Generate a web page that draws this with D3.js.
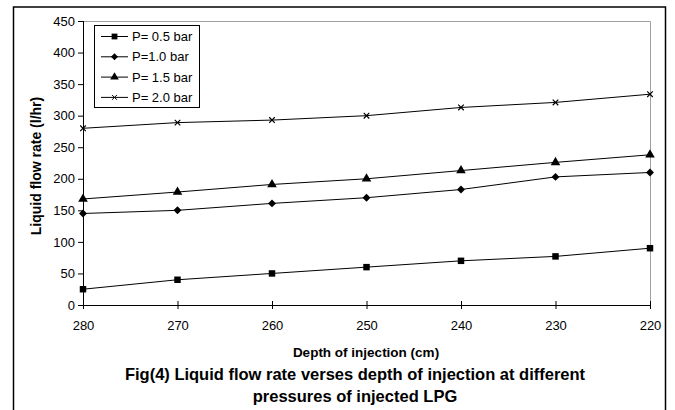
<!DOCTYPE html>
<html>
<head>
<meta charset="utf-8">
<script src="https://cdn.jsdelivr.net/npm/d3@7"></script>
<style>
  body { margin: 0; background: #fff; }
  svg { font-family: "Liberation Sans", Arial, sans-serif; }
</style>
</head>
<body>
<div id="chart-container"></div>
<script>
// data
const depths = [280, 270, 260, 250, 240, 230, 220];
const p05 = [25, 40, 50, 60, 70, 77, 90];
const p10 = [145, 150, 161, 170, 183, 203, 210];
const p15 = [168, 179, 191, 200, 213, 226, 238];
const p20 = [280, 289, 293, 300, 313, 321, 334];
const seriesNames = ["P= 0.5 bar", "P=1.0 bar", "P= 1.5 bar", "P= 2.0 bar"];
const yTicks = [0, 50, 100, 150, 200, 250, 300, 350, 400, 450];

const series = [
    { name: seriesNames[0], values: p05, symbol: d3.symbolSquare, size: 42, filled: true },
    { name: seriesNames[1], values: p10, symbol: d3.symbolDiamond2, size: 40, filled: true },
    { name: seriesNames[2], values: p15, symbol: d3.symbolTriangle, size: 40, filled: true },
    { name: seriesNames[3], values: p20, symbol: d3.symbolTimes, size: 22, filled: false }
];

const W = 675, H = 410;
const margin = { top: 21, right: 25, bottom: 105, left: 83 },
    width = 650 - margin.left,
    height = 305 - margin.top;

const svg = d3.select('#chart-container')
    .append('svg')
    .attr('width', W)
    .attr('height', H);

// outer frame (bottom edge is cut off in the original)
svg.append('path')
    .attr('d', `M13.5,${H + 2} V7 H665.5 V${H + 2}`)
    .attr('fill', 'none')
    .attr('stroke', '#000')
    .attr('stroke-width', 1.5);

const g = svg.append('g')
    .attr('transform', `translate(${margin.left},${margin.top})`);

const x = d3.scalePoint()
    .domain(depths)
    .range([0, width]);

const y = d3.scaleLinear()
    .domain([0, 450])
    .range([height, 0]);

// plot area border (grey top and right)
g.append('path')
    .attr('d', `M0,0.5 H${width + 0.5} V${height}`)
    .attr('fill', 'none')
    .attr('stroke', '#a0a0a0')
    .attr('stroke-width', 1);

// Y axis
const yAxis = g.append('g')
    .call(d3.axisLeft(y).tickValues(yTicks).tickSize(5).tickPadding(3));
yAxis.selectAll('text').attr('font-size', 13).attr('fill', '#000').style('font-family', '"Liberation Sans", Arial, sans-serif');
yAxis.select('.domain').attr('d', `M0.5,${height} V0`).attr('stroke', '#000');

// X axis, ticks cross the line
const xAxis = g.append('g')
    .attr('transform', `translate(0,${height})`)
    .call(d3.axisBottom(x).tickSize(4).tickPadding(12));
xAxis.selectAll('.tick line').attr('y1', -4).attr('y2', 4);
xAxis.select('.domain').attr('d', `M0,0.5 H${width}`).attr('stroke', '#000');
xAxis.selectAll('text').attr('font-size', 13).attr('fill', '#000').style('font-family', '"Liberation Sans", Arial, sans-serif');

// lines and markers
const line = d3.line()
    .x((d, i) => x(depths[i]))
    .y(d => y(d));

series.forEach(s => {
    g.append('path')
        .datum(s.values)
        .attr('fill', 'none')
        .attr('stroke', '#000')
        .attr('stroke-width', 1)
        .attr('d', line);

    g.append('g')
        .selectAll('path')
        .data(s.values)
        .enter()
        .append('path')
        .attr('transform', (d, i) => `translate(${x(depths[i])},${y(d)})`)
        .attr('d', d3.symbol().type(s.symbol).size(s.size))
        .attr('fill', s.filled ? '#000' : 'none')
        .attr('stroke', s.filled ? 'none' : '#000')
        .attr('stroke-width', 1.2);
});

// legend
const legend = svg.append('g').attr('transform', 'translate(94,25)');
legend.append('rect')
    .attr('x', 0.5).attr('y', 0.5)
    .attr('width', 105).attr('height', 82)
    .attr('fill', '#fff')
    .attr('stroke', '#000');

series.forEach((s, i) => {
    const ly = 11.5 + i * 20.3;
    legend.append('line')
        .attr('x1', 7).attr('x2', 34)
        .attr('y1', ly).attr('y2', ly)
        .attr('stroke', '#000');
    legend.append('path')
        .attr('transform', `translate(20.5,${ly})`)
        .attr('d', d3.symbol().type(s.symbol).size(s.size * 0.8))
        .attr('fill', s.filled ? '#000' : 'none')
        .attr('stroke', s.filled ? 'none' : '#000');
    legend.append('text')
        .attr('x', 38)
        .attr('y', ly)
        .attr('dy', '0.35em')
        .attr('font-size', 13)
        .text(s.name);
});

// axis titles
svg.append('text')
    .attr('transform', `translate(41,166) rotate(-90)`)
    .attr('text-anchor', 'middle')
    .attr('font-size', 14)
    .attr('font-weight', 'bold')
    .text('Liquid flow rate (l/hr)');

svg.append('text')
    .attr('x', 366)
    .attr('y', 357)
    .attr('text-anchor', 'middle')
    .attr('font-size', 13.5)
    .attr('font-weight', 'bold')
    .text('Depth of injection (cm)');

// figure caption
const caption = ['Fig(4) Liquid flow rate verses depth of injection at different', 'pressures of injected LPG'];
caption.forEach((c, i) => {
    svg.append('text')
        .attr('x', 355)
        .attr('y', 380 + i * 22)
        .attr('text-anchor', 'middle')
        .attr('font-size', 16.5)
        .attr('font-weight', 'bold')
        .text(c);
});
</script>
</body>
</html>
